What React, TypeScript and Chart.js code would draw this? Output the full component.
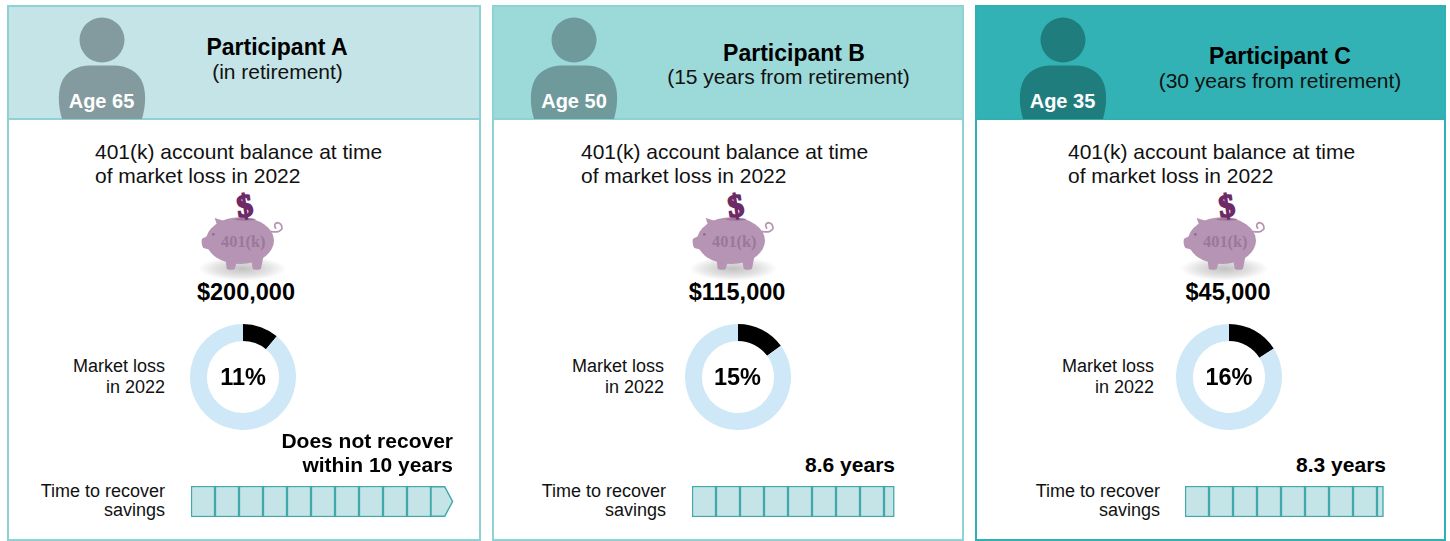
import React, { useEffect, useRef } from "react";
import { Chart, registerables } from "chart.js";

Chart.register(...registerables);

// ---------- data ----------
const participants = ["Participant A", "Participant B", "Participant C"];
const stages = ["(in retirement)", "(15 years from retirement)", "(30 years from retirement)"];
const ages = ["Age 65", "Age 50", "Age 35"];
const balances = ["$200,000", "$115,000", "$45,000"];
const marketLossPct = [11, 15, 16];
const recoveryLabels = [["Does not recover", "within 10 years"], ["8.6 years"], ["8.3 years"]];
// Segments as they are drawn: each full cell is one year.
const recoveryA = [1, 1, 1, 1, 1, 1, 1, 1, 1, 1, 0.92];
const recoveryB = [1, 1, 1, 1, 1, 1, 1, 1, 0.43];
const recoveryC = [1, 1, 1, 1, 1, 1, 1, 1, 0.27];
const recoverySegments = [recoveryA, recoveryB, recoveryC];
const arrowEnds = [true, false, false];

// ---------- layout and styles ----------
const FONT = '"Liberation Sans", Arial, sans-serif';
const panels = [
  { left: 7, width: 474, head: "#c5e4e7", border: "#8ed2d4", person: "#839a9e", personX: 101.5, pigX: 180,
    titleX: 277, subX: 277.5, titleY: 48, subY: 72, textX: 95, amountX: 246, cx: 243, lossR: 165, timeR: 165, barX: 191,
    valueR: 453 },
  { left: 492, width: 472, head: "#9cd9d9", border: "#8ed2d4", person: "#6f9a9c", personX: 574, pigX: 671,
    titleX: 794, subX: 788.5, titleY: 53.5, subY: 77, textX: 581, amountX: 737, cx: 737.5, lossR: 664, timeR: 666, barX: 692,
    valueR: 895 },
  { left: 975, width: 471, head: "#33b2b5", border: "#2fb0b2", person: "#207d7d", personX: 1062.5, pigX: 1162,
    titleX: 1280, subX: 1280, titleY: 57, subY: 81, textX: 1068, amountX: 1228, cx: 1229, lossR: 1154, timeR: 1160, barX: 1185,
    valueR: 1386 },
];
const CELL = 24;
const BAR_W = 270;

function T(props: { x: number; y: number; size: number; bold?: boolean; align?: "l" | "c" | "r"; color?: string; children: React.ReactNode }) {
  const { x, y, size, bold, align = "l", color = "#111", children } = props;
  const tx = align === "l" ? "0" : align === "c" ? "-50%" : "-100%";
  return (
    <div
      style={{
        position: "absolute",
        left: x,
        top: y,
        transform: `translate(${tx}, -50%)`,
        font: `${bold ? "bold " : ""}${size}px ${FONT}`,
        color,
        whiteSpace: "nowrap",
        lineHeight: 1.2,
      }}
    >
      {children}
    </div>
  );
}

function Donut({ value, cx, cy }: { value: number; cx: number; cy: number }) {
  const ref = useRef<HTMLCanvasElement>(null);
  useEffect(() => {
    const chart = new Chart(ref.current!, {
      type: "doughnut",
      data: {
        labels: ["Market loss", "Remaining"],
        datasets: [{ data: [value, 100 - value], backgroundColor: ["#000000", "#cfe8f7"], borderWidth: 0 }],
      },
      options: {
        animation: false,
        responsive: false,
        cutout: "68%",
        layout: { padding: 0 },
        plugins: { legend: { display: false }, tooltip: { enabled: false } },
      },
    });
    return () => chart.destroy();
  }, [value]);
  return (
    <canvas ref={ref} width={106} height={106} style={{ position: "absolute", left: cx - 53, top: cy - 53, width: 106, height: 106 }} />
  );
}

const arrowPlugin = {
  id: "arrowEnd",
  afterDatasetsDraw(chart: any, _a: any, opts: any) {
    if (!opts.enabled) return;
    const metas = chart.getSortedVisibleDatasetMetas();
    const last = metas[metas.length - 1].data[0];
    const { x, base, y, height } = last.getProps(["x", "base", "y", "height"], true);
    const ctx = chart.ctx;
    const top = y - height / 2 + 0.75;
    const bot = y + height / 2 - 0.75;
    const notch = x - (x - base) * 0.38;
    ctx.save();
    ctx.beginPath();
    ctx.moveTo(base, top);
    ctx.lineTo(notch, top);
    ctx.lineTo(x - 0.5, y);
    ctx.lineTo(notch, bot);
    ctx.lineTo(base, bot);
    ctx.closePath();
    ctx.fillStyle = opts.fill;
    ctx.strokeStyle = opts.stroke;
    ctx.lineWidth = 1.5;
    ctx.fill();
    ctx.stroke();
    ctx.restore();
  },
};

function RecoveryBar({ segments, arrow, x, y }: { segments: number[]; arrow: boolean; x: number; y: number }) {
  const ref = useRef<HTMLCanvasElement>(null);
  useEffect(() => {
    const fill = "#c5e4e7";
    const stroke = "#3fa9ab";
    const chart = new Chart(ref.current!, {
      type: "bar",
      plugins: [arrowPlugin as any],
      data: {
        labels: ["Time to recover savings"],
        datasets: segments.map((v, i) => {
          const isArrow = arrow && i === segments.length - 1;
          return {
            data: [v],
            backgroundColor: isArrow ? "rgba(0,0,0,0)" : fill,
            borderColor: isArrow ? "rgba(0,0,0,0)" : stroke,
            borderWidth: 1.5,
            borderSkipped: false,
            barPercentage: 1,
            categoryPercentage: 1,
          };
        }),
      },
      options: {
        indexAxis: "y",
        animation: false,
        responsive: false,
        layout: { padding: { left: 1, right: 1, top: 0, bottom: 0 } },
        scales: {
          x: { display: false, stacked: true, min: 0, max: (BAR_W - 2) / CELL },
          y: { display: false, stacked: true },
        },
        plugins: {
          legend: { display: false },
          tooltip: { enabled: false },
          arrowEnd: { enabled: arrow, fill, stroke },
        } as any,
      },
    });
    return () => chart.destroy();
  }, [segments, arrow]);
  return (
    <canvas ref={ref} width={BAR_W} height={31} style={{ position: "absolute", left: x - 1, top: y, width: BAR_W, height: 31 }} />
  );
}

function Person({ x, color }: { x: number; color: string }) {
  return (
    <svg width={90} height={114} viewBox="0 0 90 114" style={{ position: "absolute", left: x - 45, top: 5 }}>
      <circle cx={45} cy={35} r={22.5} fill={color} />
      <path
        d="M5 114 C1 100 1 88 4 79 C8 66 21 60.5 33 60.5 L57 60.5 C69 60.5 82 66 86 79 C89 88 89 100 85 114 Z"
        fill={color}
      />
    </svg>
  );
}

function Pig({ x }: { x: number }) {
  const id = `shadow${Math.round(x)}`;
  const pink = "#b694b3";
  return (
    <svg width={130} height={110} viewBox="0 -60 390 330" style={{ position: "absolute", left: x, top: 170 }}>
      <defs>
        <radialGradient id={id}>
          <stop offset="0%" stopColor="#c2c2c2" />
          <stop offset="60%" stopColor="#e2e2e2" />
          <stop offset="100%" stopColor="#ffffff" />
        </radialGradient>
      </defs>
      <ellipse cx={187} cy={236} rx={132} ry={36} fill={`url(#${id})`} />
      <path d="M135 190 L140 236 Q152 243 165 236 L172 205 Z" fill={pink} />
      <path d="M213 205 L218 236 Q230 243 243 236 L252 190 Z" fill={pink} />
      <ellipse cx={180} cy={152} rx={102} ry={70} fill={pink} />
      <path d="M66 146 L102 128 L102 182 L70 174 Q62 160 66 146 Z" fill={pink} />
      <path d="M104 84 L150 98 L118 125 Z" fill={pink} />
      <path d="M272 124 Q296 130 306 116 Q306 100 292 98 Q278 102 288 116" fill="none" stroke={pink} strokeWidth={5} />
      <ellipse cx={195} cy={88} rx={32} ry={4} fill="#9b769a" />
      <circle cx={100} cy={133} r={4} fill="#8e6a8e" />
      <text
        x={195}
        y={79}
        textAnchor="middle"
        transform="rotate(-8 195 55)"
        fontFamily='"Liberation Serif", serif'
        fontWeight="bold"
        fontSize={96}
        fill="#6d2a67"
        stroke="#6d2a67"
        strokeWidth={5}
      >
        $
      </text>
      <text x={190} y={170} textAnchor="middle" fontFamily='"Liberation Serif", serif' fontWeight="bold" fontSize={49} fill="#9a789c">
        401(k)
      </text>
    </svg>
  );
}

export default function App() {
  return (
    <div style={{ position: "absolute", left: 0, top: 0, width: 1450, height: 541, overflow: "hidden", background: "#fff", fontFamily: FONT }}>
      {panels.map((p, i) => (
        <React.Fragment key={i}>
          <div
            style={{
              position: "absolute",
              left: p.left,
              top: 5,
              width: p.width,
              height: 536,
              boxSizing: "border-box",
              border: `2px solid ${p.border}`,
              background: "#fff",
            }}
          />
          <div
            style={{
              position: "absolute",
              left: p.left,
              top: 5,
              width: p.width,
              height: 115,
              boxSizing: "border-box",
              border: `2px solid ${p.border}`,
              background: p.head,
            }}
          />
          <Person x={p.personX} color={p.person} />
          <T x={p.personX} y={101} size={20} bold align="c" color="#fff">{ages[i]}</T>
          <T x={p.titleX} y={p.titleY} size={23} bold align="c" color="#000">{participants[i]}</T>
          <T x={p.subX} y={p.subY} size={21} align="c">{stages[i]}</T>
          <T x={p.textX} y={152} size={21}>401(k) account balance at time</T>
          <T x={p.textX} y={176} size={21}>of market loss in 2022</T>
          <Pig x={p.pigX} />
          <T x={p.amountX} y={292} size={23.5} bold align="c" color="#000">{balances[i]}</T>
          <T x={p.lossR} y={366.5} size={18} align="r">Market loss</T>
          <T x={p.lossR} y={387.5} size={18} align="r">in 2022</T>
          <Donut value={marketLossPct[i]} cx={p.cx} cy={377} />
          <T x={p.cx} y={377} size={23.5} bold align="c" color="#000">{marketLossPct[i]}%</T>
          {recoveryLabels[i].map((line, k) => (
            <T key={k} x={p.valueR} y={465 - (recoveryLabels[i].length - 1 - k) * 24} size={21} bold align="r" color="#000">{line}</T>
          ))}
          <T x={p.timeR} y={492} size={18} align="r">Time to recover</T>
          <T x={p.timeR} y={511} size={18} align="r">savings</T>
          <RecoveryBar segments={recoverySegments[i]} arrow={arrowEnds[i]} x={p.barX} y={486} />
        </React.Fragment>
      ))}
    </div>
  );
}
